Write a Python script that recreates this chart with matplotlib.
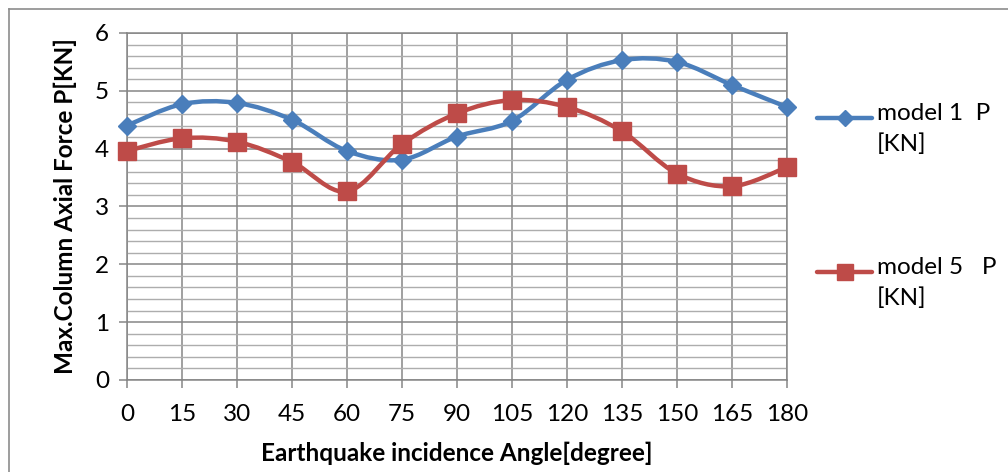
import numpy as np
import matplotlib
matplotlib.use("Agg")
import matplotlib.pyplot as plt
from matplotlib.path import Path
from matplotlib.patches import PathPatch
from matplotlib.lines import Line2D

plt.rcParams["font.family"] = ["Lato", "DejaVu Sans"]

# incidence angles and peak column axial forces
angles = [0, 15, 30, 45, 60, 75, 90, 105, 120, 135, 150, 165, 180]
model1_p = [4.40, 4.77, 4.79, 4.50, 3.96, 3.81, 4.21, 4.48, 5.19, 5.53, 5.50, 5.10, 4.72]
model5_p = [3.96, 4.18, 4.12, 3.77, 3.26, 4.08, 4.61, 4.84, 4.72, 4.30, 3.57, 3.35, 3.68]

labels = ["model 1  P\n[KN]", "model 5   P\n[KN]"]
colors = ["#4A7EBB", "#BE4B48"]
markers = ["D", "s"]
msizes = [9.5, 13]

FS = 17.5


def smooth_path(xs, ys):
    # cubic bezier through the points (catmull-rom style tangents)
    pts = np.column_stack([xs, ys]).astype(float)
    n = len(pts)
    verts = [pts[0]]
    codes = [Path.MOVETO]
    for i in range(n - 1):
        p0 = pts[i - 1] if i > 0 else pts[i]
        p1 = pts[i]
        p2 = pts[i + 1]
        p3 = pts[i + 2] if i + 2 < n else pts[i + 1]
        c1 = p1 + (p2 - p0) / 6.0
        c2 = p2 - (p3 - p1) / 6.0
        verts += [c1, c2, p2]
        codes += [Path.CURVE4] * 3
    return Path(verts, codes)


fig = plt.figure(figsize=(10.08, 4.72), dpi=100)
ax = fig.add_axes([127 / 1008, 1 - 380 / 472, 660 / 1008, 347 / 472])

ax.set_xlim(0, 180)
ax.set_ylim(0, 6)
ax.set_xticks(angles)
ax.set_yticks(range(0, 7))
ax.set_yticks(np.arange(0, 6.01, 0.2), minor=True)

ax.grid(True, which="major", axis="both", color="#868686", lw=1.1, zorder=1)
ax.grid(True, which="minor", axis="y", color="#ADADAD", lw=1.0, zorder=0.5)
ax.tick_params(axis="y", which="minor", length=0)
ax.tick_params(axis="both", which="major", color="#868686", width=1.1,
               length=6, labelsize=FS, pad=7)
ax.tick_params(axis="x", pad=11)
for side in ["left", "bottom", "top", "right"]:
    ax.spines[side].set_color("#868686")
    ax.spines[side].set_linewidth(1.1)

for ys, c, m, ms in zip([model1_p, model5_p], colors, markers, msizes):
    ax.add_patch(PathPatch(smooth_path(angles, ys), fill=False, edgecolor=c,
                           lw=3.2, capstyle="round", zorder=3))
    ax.plot(angles, ys, ls="none", marker=m, ms=ms, color=c, zorder=4,
            clip_on=False)

ax.set_xlabel("Earthquake incidence Angle[degree]", fontsize=FS,
              fontweight="bold", labelpad=12)
ax.set_ylabel("Max.Column Axial Force P[KN]", fontsize=FS,
              fontweight="bold", labelpad=13)

# legend on the right, drawn by hand
leg_y = [118 / 472, 272 / 472]
for y, c, m, ms, lab in zip(leg_y, colors, markers, msizes, labels):
    fy = 1 - y
    fig.add_artist(Line2D([817 / 1008, 872 / 1008], [fy, fy], color=c, lw=3.2,
                          solid_capstyle="round", transform=fig.transFigure))
    fig.add_artist(Line2D([844.5 / 1008], [fy], color=c, marker=m, ms=ms * 0.85,
                          transform=fig.transFigure))
    fig.text(877 / 1008, fy + 15 / 472, lab, fontsize=FS, va="top",
             linespacing=1.55)

# chart area border
fig.add_artist(Line2D([9 / 1008, 9 / 1008], [0, 1 - 9 / 472], color="#8C8C8C",
                      lw=1.2, transform=fig.transFigure))
fig.add_artist(Line2D([9 / 1008, 1], [1 - 9 / 472, 1 - 9 / 472], color="#8C8C8C",
                      lw=1.2, transform=fig.transFigure))

fig.savefig("out.png", dpi=100)
